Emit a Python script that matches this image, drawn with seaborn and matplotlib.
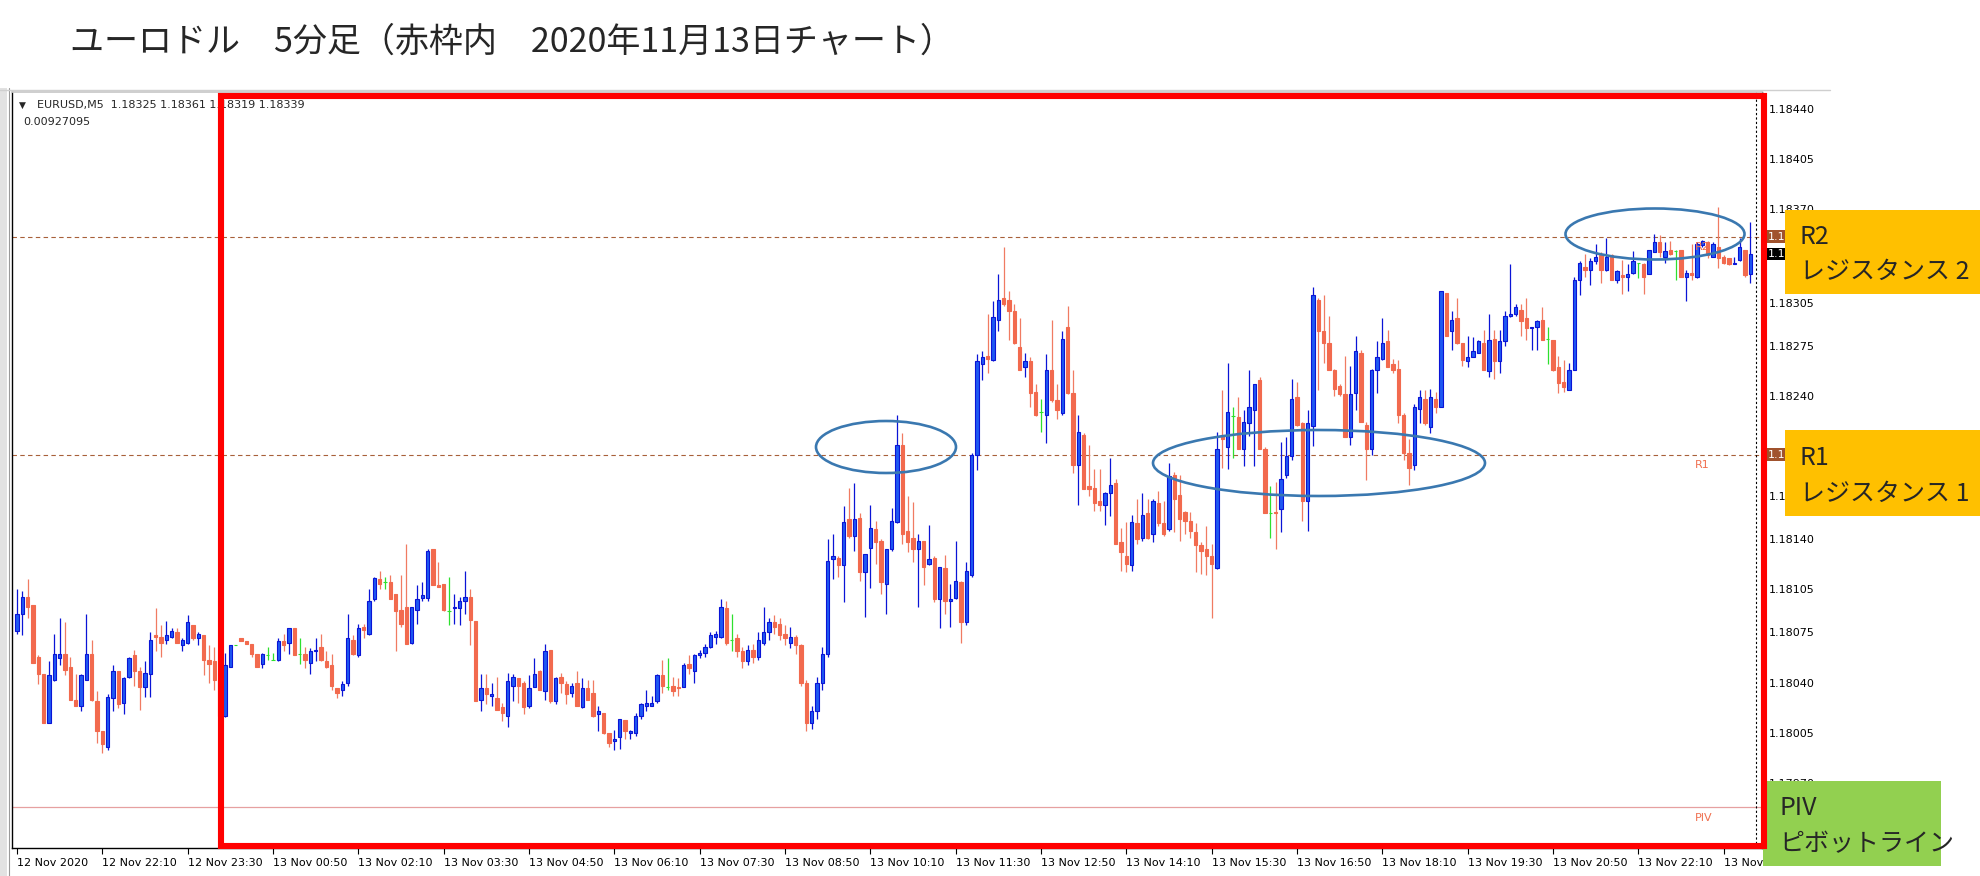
import numpy as np
import pandas as pd
import matplotlib
matplotlib.use("Agg")
import matplotlib.pyplot as plt
import seaborn as sns
from matplotlib.patches import Rectangle, Ellipse
from matplotlib.lines import Line2D

# EURUSD M5 candles, 12 Nov 2020 20:50 -> 13 Nov 2020 ~23:55
# values are points (1e-5) above 1.18000
open_pts = [
    76, 88, 100, 94, 58, 46, 12, 42, 57, 60, 51, 28, 24, 42, 60, 27, 6, -5, 29, 48,
    26, 44, 59, 48, 37, 46, 73, 72, 70, 72, 75, 66, 68, 80, 71, 73, 56, 55, 42, 17,
    51, 66, 71, 69, 67, 60, 53, 59, 56, 56, 69, 68, 78, 60, 60, 54, 62, 65, 55, 52,
    36, 35, 40, 70, 59, 79, 74, 98, 112, 110, 110, 102, 91, 93, 68, 91, 99, 99, 133, 108,
    109, 90, 92, 92, 97, 100, 83, 28, 36, 31, 29, 23, 17, 38, 43, 40, 24, 37, 48, 34,
    63, 27, 44, 39, 33, 40, 23, 36, 33, 18, 19, 5, -1, 2, 14, 5, 5, 17, 24, 24,
    27, 45, 37, 38, 37, 37, 53, 48, 59, 61, 65, 72, 72, 92, 70, 71, 62, 55, 63, 58,
    68, 75, 82, 81, 74, 68, 72, 66, 40, 12, 20, 40, 60, 126, 127, 122, 154, 142, 155, 117,
    134, 147, 139, 109, 133, 152, 206, 146, 141, 133, 139, 123, 127, 98, 120, 97, 99, 110, 82, 115,
    199, 262, 268, 265, 293, 308, 307, 299, 274, 260, 264, 243, 229, 227, 258, 237, 228, 288, 242, 192,
    213, 177, 176, 167, 164, 172, 179, 138, 128, 122, 151, 141, 158, 144, 165, 151, 147, 185, 171, 159,
    153, 145, 136, 133, 128, 120, 213, 204, 226, 225, 203, 221, 230, 251, 203, 158, 159, 161, 185, 198,
    239, 221, 167, 219, 307, 285, 277, 258, 247, 241, 211, 242, 270, 220, 203, 258, 266, 278, 262, 259,
    227, 200, 192, 231, 238, 218, 238, 232, 312, 285, 294, 277, 264, 267, 270, 277, 257, 280, 264, 278,
    296, 297, 300, 294, 287, 288, 293, 280, 279, 260, 250, 244, 258, 321, 330, 328, 334, 338, 328, 338,
    321, 324, 323, 326, 333, 332, 325, 340, 347, 337, 342, 341, 342, 323, 326, 323, 345, 347, 337, 344,
    337, 336, 332, 335, 342, 325,
]
high_pts = [
    105, 104, 112, 94, 59, 46, 55, 74, 85, 82, 58, 46, 46, 88, 70, 34, 6, 32, 52, 48,
    44, 58, 63, 51, 55, 75, 92, 80, 83, 78, 78, 71, 87, 80, 75, 73, 66, 65, 44, 61,
    66, 66, 71, 69, 67, 60, 61, 65, 61, 71, 74, 78, 78, 71, 65, 64, 71, 74, 62, 60,
    36, 41, 88, 73, 81, 81, 105, 114, 118, 114, 115, 102, 115, 137, 93, 108, 110, 133, 133, 124,
    109, 114, 102, 100, 118, 105, 83, 46, 46, 40, 44, 26, 47, 46, 43, 41, 45, 57, 49, 67,
    63, 44, 47, 41, 40, 48, 43, 42, 42, 24, 19, 5, 7, 15, 14, 7, 19, 26, 35, 31,
    46, 56, 57, 44, 43, 54, 59, 60, 63, 67, 75, 76, 98, 97, 88, 74, 65, 66, 67, 75,
    93, 85, 87, 85, 80, 79, 73, 67, 42, 24, 44, 65, 140, 144, 128, 163, 176, 179, 158, 130,
    164, 153, 140, 133, 162, 227, 214, 170, 166, 144, 139, 150, 128, 121, 129, 109, 139, 111, 124, 200,
    269, 271, 297, 306, 325, 344, 313, 304, 294, 270, 267, 248, 238, 269, 293, 248, 285, 303, 258, 227,
    214, 206, 189, 189, 173, 197, 182, 148, 152, 157, 168, 172, 168, 168, 174, 167, 193, 187, 185, 160,
    159, 151, 138, 149, 137, 215, 244, 263, 232, 239, 230, 258, 248, 253, 204, 177, 180, 208, 211, 252,
    250, 222, 230, 316, 308, 310, 296, 259, 248, 268, 261, 282, 272, 222, 259, 278, 294, 286, 266, 265,
    228, 210, 234, 244, 244, 245, 243, 313, 312, 299, 308, 277, 282, 281, 279, 286, 297, 286, 286, 299,
    332, 304, 304, 308, 288, 293, 302, 288, 279, 268, 265, 263, 323, 334, 339, 336, 346, 340, 350, 339,
    328, 335, 332, 341, 333, 333, 342, 353, 352, 347, 348, 342, 342, 328, 346, 347, 349, 348, 347, 372,
    338, 336, 337, 350, 342, 361,
]
low_pts = [
    74, 73, 85, 54, 39, 12, 12, 41, 52, 45, 28, 24, 20, 42, 27, -2, -9, -7, 20, 22,
    18, 43, 38, 21, 30, 30, 62, 58, 67, 71, 68, 62, 67, 70, 66, 45, 40, 35, 14, 16,
    51, 66, 69, 67, 58, 51, 50, 56, 56, 55, 62, 60, 59, 53, 50, 46, 55, 55, 50, 35,
    29, 31, 38, 59, 58, 71, 73, 97, 105, 105, 98, 62, 79, 67, 67, 81, 97, 97, 108, 107,
    90, 80, 81, 80, 88, 66, 27, 20, 25, 24, 21, 13, 9, 27, 26, 18, 22, 37, 35, 28,
    26, 25, 33, 25, 30, 24, 22, 28, 16, 6, 4, -5, -7, -6, 1, 1, 3, 15, 20, 24,
    26, 33, 35, 31, 31, 37, 46, 40, 57, 58, 64, 67, 71, 66, 62, 58, 50, 52, 54, 56,
    66, 70, 74, 70, 66, 64, 60, 38, 6, 8, 15, 35, 58, 112, 114, 96, 141, 132, 111, 86,
    106, 123, 102, 88, 132, 151, 137, 131, 124, 93, 108, 122, 96, 78, 88, 79, 98, 68, 80, 114,
    188, 251, 256, 264, 285, 303, 279, 276, 258, 253, 232, 226, 215, 207, 236, 224, 227, 241, 186, 164,
    175, 170, 160, 160, 150, 156, 137, 118, 117, 118, 137, 139, 140, 138, 149, 142, 146, 145, 139, 144,
    141, 117, 116, 115, 85, 119, 190, 189, 197, 203, 191, 212, 191, 203, 158, 141, 133, 145, 183, 195,
    219, 153, 146, 205, 244, 263, 258, 240, 240, 211, 206, 230, 222, 181, 199, 242, 265, 260, 256, 221,
    195, 178, 188, 221, 220, 214, 228, 232, 282, 272, 276, 261, 260, 267, 270, 258, 253, 252, 256, 275,
    295, 296, 282, 279, 272, 272, 279, 262, 257, 242, 243, 244, 258, 310, 323, 317, 332, 319, 327, 321,
    319, 311, 313, 325, 322, 311, 325, 340, 337, 333, 338, 321, 323, 306, 321, 322, 344, 336, 337, 329,
    332, 331, 332, 334, 323, 319,
]
close_pts = [
    88, 100, 93, 54, 46, 12, 45, 60, 60, 49, 28, 24, 45, 60, 28, 6, -3, 30, 48, 25,
    43, 57, 48, 37, 47, 70, 72, 68, 73, 76, 68, 70, 82, 71, 74, 56, 53, 42, 17, 52,
    66, 66, 69, 67, 60, 51, 60, 59, 56, 69, 66, 78, 59, 60, 56, 62, 63, 56, 51, 38,
    33, 39, 71, 60, 78, 77, 97, 113, 109, 110, 98, 90, 81, 67, 93, 98, 101, 132, 108, 107,
    91, 90, 93, 97, 100, 84, 27, 36, 32, 32, 21, 19, 41, 44, 38, 23, 36, 46, 35, 62,
    27, 43, 40, 32, 38, 24, 36, 28, 17, 20, 5, -2, 1, 15, 6, 6, 17, 25, 26, 26,
    45, 38, 37, 34, 36, 52, 50, 59, 61, 65, 73, 74, 93, 68, 70, 62, 55, 63, 58, 70,
    75, 82, 79, 73, 71, 72, 66, 40, 12, 20, 40, 60, 125, 128, 122, 152, 142, 154, 117, 130,
    148, 138, 110, 133, 153, 206, 144, 138, 133, 139, 121, 126, 98, 121, 97, 98, 111, 82, 118, 199,
    264, 267, 266, 295, 307, 304, 299, 277, 258, 264, 242, 227, 229, 258, 237, 230, 280, 242, 192, 215,
    175, 175, 165, 164, 172, 178, 137, 131, 123, 152, 140, 157, 141, 167, 151, 144, 184, 168, 154, 153,
    146, 136, 132, 128, 123, 203, 210, 229, 226, 203, 222, 232, 248, 203, 158, 158, 158, 182, 198, 238,
    220, 167, 221, 310, 285, 277, 258, 245, 241, 211, 241, 271, 222, 203, 258, 267, 277, 260, 258, 227,
    200, 190, 232, 239, 221, 239, 232, 313, 282, 293, 277, 265, 267, 271, 278, 258, 279, 264, 278, 296,
    297, 302, 292, 287, 288, 292, 279, 280, 258, 249, 246, 258, 321, 333, 328, 334, 337, 328, 337, 321,
    327, 323, 325, 334, 333, 323, 342, 347, 340, 341, 339, 341, 323, 326, 324, 346, 348, 338, 346, 336,
    333, 332, 333, 344, 324, 339,
]

# pivot levels
level_names = ["R2", "R1", "PIV"]
level_values = [1.18351, 1.18199, 1.17953]

# axis labels (labels hidden behind the note boxes are cut as in the screenshot)
y_ticks = [1.18440, 1.18405, 1.18370, 1.18340, 1.18305, 1.18275, 1.18240, 1.18205,
           1.18170, 1.18140, 1.18105, 1.18075, 1.18040, 1.18005, 1.17970]
y_labels = ["1.18440", "1.18405", "1.18370", "", "1.18305", "1.18275", "1.18240", "",
            "1.1", "1.18140", "1.18105", "1.18075", "1.18040", "1.18005", "1.17970"]
x_labels = ["12 Nov 2020", "12 Nov 22:10", "12 Nov 23:30", "13 Nov 00:50", "13 Nov 02:10",
            "13 Nov 03:30", "13 Nov 04:50", "13 Nov 06:10", "13 Nov 07:30", "13 Nov 08:50",
            "13 Nov 10:10", "13 Nov 11:30", "13 Nov 12:50", "13 Nov 14:10", "13 Nov 15:30",
            "13 Nov 16:50", "13 Nov 18:10", "13 Nov 19:30", "13 Nov 20:50", "13 Nov 22:10",
            "13 Nov"]

title = "ユーロドル　5分足（赤枠内　2020年11月13日チャート）"
notes = [("R2", "レジスタンス 2"), ("R1", "レジスタンス 1"), ("PIV", "ピボットライン")]

df = pd.DataFrame({"open": open_pts, "high": high_pts, "low": low_pts, "close": close_pts}) / 1e5 + 1.18
df["bar"] = np.arange(len(df))

W, H = 1980, 876
sns.set_theme(style="white")
plt.rcParams["font.family"] = ["DejaVu Sans"]
JP = ["Noto Sans CJK JP", "DejaVu Sans"]


def fx(x):
    return x / W


def fy(y):
    return 1 - y / H


fig = plt.figure(figsize=(W / 100, H / 100), dpi=100)
fig.patch.set_facecolor("white")
ax = fig.add_axes([fx(12), fy(848), (1762 - 12) / W, (848 - 92) / H])
ax.set_facecolor("white")

# candles
BLUE_FILL, BLUE_EDGE = "#1f58f2", "#0a14d6"
RED, RED_WICK = "#f26a4e", "#f07b62"
GREEN = "#2ee02e"
groups = [
    (df.close > df.open, BLUE_EDGE, BLUE_FILL, BLUE_EDGE),
    (df.close < df.open, RED_WICK, RED, RED),
    (df.close == df.open, GREEN, GREEN, GREEN),
]
for mask, wick, fill, edge in groups:
    d = df[mask]
    ax.vlines(d.bar, d.low, d.high, color=wick, lw=0.9, zorder=2)
    lo = d[["open", "close"]].min(axis=1)
    hi = d[["open", "close"]].max(axis=1)
    ax.bar(d.bar, hi - lo, bottom=lo, width=0.64, color=fill, edgecolor=edge,
           linewidth=0.8, zorder=3)

# pivot lines
for name, val in zip(level_names, level_values):
    if name == "PIV":
        ax.axhline(val, color="#e6a0a0", lw=0.9, zorder=1)
    else:
        ax.axhline(val, color="#a8603a", lw=0.8, ls=(0, (4, 3)), zorder=1)
    ax.text(314.6, val - 0.00004, name, color="#f07050", fontsize=8, va="top",
            ha="left", zorder=4)

ax.axvline(326, color="black", lw=0.8, ls=(0, (2, 2)), zorder=1)

ax.set_xlim(-0.94, 327.2)
ax.set_ylim(1.179247, 1.184519)

ax.yaxis.tick_right()
ax.set_yticks(y_ticks)
ax.set_yticklabels(y_labels)
ax.set_xticks(np.arange(0, 16 * len(x_labels), 16))
ax.set_xticklabels(x_labels, ha="left")
ax.tick_params(axis="y", which="both", right=True, left=False, length=3, width=0.8,
               pad=2.2, labelsize=8, colors="black", direction="out")
ax.tick_params(axis="x", which="both", bottom=True, length=4, width=0.8, pad=3,
               labelsize=8, colors="black", direction="out")
for side in ["left", "bottom", "right"]:
    ax.spines[side].set_color("black")
    ax.spines[side].set_linewidth(1)
ax.spines["top"].set_color("#c8c8c8")
ax.grid(False)

# price tags on the right axis (only "1.1" shows left of the note boxes)
last = df.iloc[-1]
tag_trans = ax.get_yaxis_transform()
for val, bg in [(level_values[0], "#a0522d"), (last.close, "black"), (level_values[1], "#a0522d")]:
    ax.text(1.0035, val, "1.1", transform=tag_trans, color="white", fontsize=8,
            va="center", ha="left", clip_on=False, zorder=6,
            bbox=dict(boxstyle="square,pad=0.12", fc=bg, ec="none"))

# window frame bits
fig.add_artist(Rectangle((0, 0), fx(7), fy(88), transform=fig.transFigure,
                         fc="#e2e2e2", ec="none", zorder=1))
fig.add_artist(Line2D([fx(9), fx(9)], [0, fy(88)], transform=fig.transFigure,
                      color="#9a9a9a", lw=0.8, zorder=1))
fig.add_artist(Line2D([0, fx(1830)], [fy(90), fy(90)], transform=fig.transFigure,
                      color="#cfcfcf", lw=1, zorder=1))

# header info
fig.text(fx(19), fy(105), "▼", fontsize=6.5, va="center", zorder=5)
fig.text(fx(37), fy(105),
         f"EURUSD,M5  {last.open:.5f} {last.high:.5f} {last.low:.5f} {last.close:.5f}",
         fontsize=8, va="center", zorder=5)
fig.text(fx(23), fy(122), "0.00927095", fontsize=8, va="center", zorder=5)

# title
fig.text(fx(70), fy(42), title, fontsize=24.5, family=JP, va="center", ha="left")

# highlight ellipses
for cx, cy, w, h in [(886, 447, 140, 52), (1319, 463, 332, 66), (1655, 234, 179, 51)]:
    fig.add_artist(Ellipse((fx(cx), fy(cy)), w / W, h / H, transform=fig.transFigure,
                           fill=False, ec="#3a78b0", lw=1.9, zorder=15))

# note boxes
boxes = [(1785, 210, 195, 84, "#ffc000", 1800), (1785, 430, 195, 86, "#ffc000", 1800),
         (1763, 781, 178, 85, "#92d050", 1779)]
for (bx, by, bw, bh, col, tx), (l1, l2) in zip(boxes, notes):
    fig.add_artist(Rectangle((fx(bx), fy(by + bh)), bw / W, bh / H, transform=fig.transFigure,
                             fc=col, ec="none", zorder=10))
    fig.text(fx(tx), fy(by + bh * 0.32), l1, fontsize=18, family=JP, va="center",
             ha="left", zorder=11)
    fig.text(fx(tx), fy(by + bh * 0.74), l2, fontsize=18, family=JP, va="center",
             ha="left", zorder=11)

# red frame
fig.add_artist(Rectangle((fx(221), fy(846)), (1764 - 221) / W, (846 - 96) / H,
                         transform=fig.transFigure, fill=False, ec="#ff0000", lw=4.4,
                         zorder=20))

fig.savefig("out.png", dpi=100)
